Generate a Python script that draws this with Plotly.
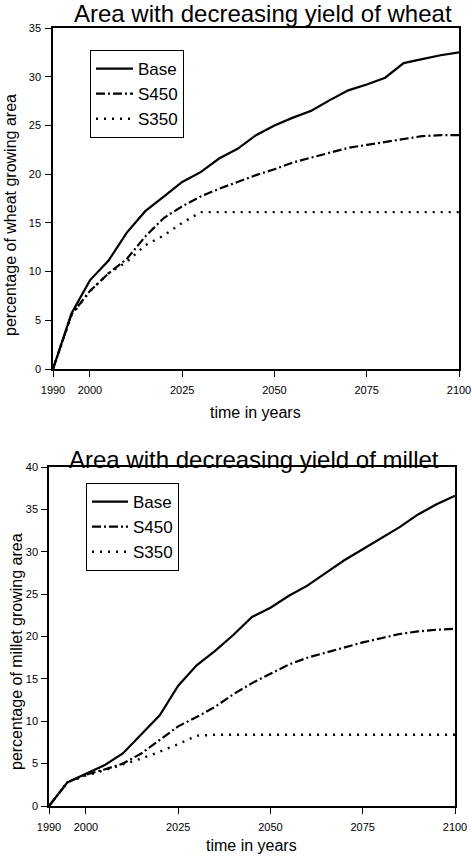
import plotly.graph_objects as go

years = [1990, 1995, 2000, 2005, 2010, 2015, 2020, 2025, 2030, 2035, 2040, 2045,
         2050, 2055, 2060, 2065, 2070, 2075, 2080, 2085, 2090, 2095, 2100]

wheat_base = [0, 5.7, 9.1, 11.1, 14.0, 16.2, 17.7, 19.2, 20.2, 21.6, 22.6, 24.0,
              25.0, 25.8, 26.5, 27.6, 28.6, 29.2, 29.9, 31.4, 31.8, 32.2, 32.5]
wheat_s450 = [0, 5.6, 8.0, 9.8, 11.3, 13.6, 15.5, 16.7, 17.7, 18.5, 19.2, 19.9,
              20.5, 21.2, 21.7, 22.2, 22.7, 23.0, 23.3, 23.6, 23.9, 24.0, 24.0]
wheat_s350 = [0, 5.5, 8.0, 9.8, 11.0, 12.7, 13.7, 15.0, 16.1, 16.1, 16.1, 16.1,
              16.1, 16.1, 16.1, 16.1, 16.1, 16.1, 16.1, 16.1, 16.1, 16.1, 16.1]

millet_base = [0, 2.8, 3.8, 4.8, 6.2, 8.5, 10.7, 14.2, 16.6, 18.3, 20.2, 22.3,
               23.4, 24.8, 26.0, 27.5, 29.0, 30.3, 31.6, 32.9, 34.4, 35.6, 36.6]
millet_s450 = [0, 2.8, 3.7, 4.3, 5.0, 6.2, 7.8, 9.4, 10.5, 11.7, 13.2, 14.5,
               15.6, 16.7, 17.5, 18.1, 18.7, 19.3, 19.8, 20.3, 20.6, 20.8, 20.9]
millet_s350 = [0, 2.8, 3.6, 4.2, 4.9, 5.6, 6.4, 7.3, 8.3, 8.4, 8.4, 8.4,
               8.4, 8.4, 8.4, 8.4, 8.4, 8.4, 8.4, 8.4, 8.4, 8.4, 8.4]

series_names = ["Base", "S450", "S350"]
x_ticks = [1990, 2000, 2025, 2050, 2075, 2100]
wheat_yticks = [0, 5, 10, 15, 20, 25, 30, 35]
millet_yticks = [0, 5, 10, 15, 20, 25, 30, 35, 40]

W, H = 472, 859
FONT = "Liberation Sans, Arial, Helvetica, sans-serif"
dashes = ["solid", "9px,3px,2px,3px", "2px,6px"]
widths = [2.2, 2.2, 2.4]

fig = go.Figure()
for name, vals, d, w in zip(series_names, [wheat_base, wheat_s450, wheat_s350], dashes, widths):
    fig.add_trace(go.Scatter(x=years, y=vals, mode="lines", name=name,
                             line=dict(color="black", width=w, dash=d),
                             xaxis="x", yaxis="y", legend="legend"))
for name, vals, d, w in zip(series_names, [millet_base, millet_s450, millet_s350], dashes, widths):
    fig.add_trace(go.Scatter(x=years, y=vals, mode="lines", name=name,
                             line=dict(color="black", width=w, dash=d),
                             xaxis="x2", yaxis="y2", legend="legend2"))

def px_x(p):
    return p / W

def px_y(p):
    return 1 - p / H

axis_common = dict(showgrid=False, zeroline=False, showline=True, linecolor="black",
                   linewidth=1.5, mirror=True, ticks="outside", ticklen=6,
                   tickcolor="black", tickwidth=1.2, automargin=False,
                   tickfont=dict(family=FONT, size=11, color="black"))

fig.update_layout(
    width=W, height=H,
    margin=dict(l=0, r=0, t=0, b=0, autoexpand=False),
    paper_bgcolor="white", plot_bgcolor="white",
    font=dict(family=FONT, color="black"),
    xaxis=dict(domain=[px_x(53), px_x(459)], range=[1990, 2100], tickvals=x_ticks,
               anchor="y", ticklabelstandoff=4, **axis_common),
    yaxis=dict(domain=[px_y(369), px_y(28)], range=[0, 35], tickvals=wheat_yticks,
               anchor="x", ticklabelstandoff=2, **axis_common),
    xaxis2=dict(domain=[px_x(49), px_x(455)], range=[1990, 2100], tickvals=x_ticks,
                anchor="y2", ticklabelstandoff=4, **axis_common),
    yaxis2=dict(domain=[px_y(806), px_y(467)], range=[0, 40], tickvals=millet_yticks,
                anchor="x2", ticklabelstandoff=1, **axis_common),
    legend=dict(x=px_x(90), y=px_y(50), xanchor="left", yanchor="top",
                bordercolor="black", borderwidth=1, bgcolor="white",
                font=dict(family=FONT, size=17, color="black"), itemwidth=37),
    legend2=dict(x=px_x(86), y=px_y(483), xanchor="left", yanchor="top",
                 bordercolor="black", borderwidth=1, bgcolor="white",
                 font=dict(family=FONT, size=17, color="black"), itemwidth=36),
)

ann = [
    dict(text="Area with decreasing yield of wheat", x=px_x(263), y=px_y(13), size=24, angle=0),
    dict(text="Area with decreasing yield of millet", x=px_x(254), y=px_y(459), size=24, angle=0),
    dict(text="time in years", x=px_x(255), y=px_y(412), size=16, angle=0),
    dict(text="time in years", x=px_x(251), y=px_y(845), size=16, angle=0),
    dict(text="percentage of wheat growing area", x=px_x(11), y=px_y(215), size=16, angle=-90),
    dict(text="percentage of millet growing area", x=px_x(16), y=px_y(652), size=16, angle=-90),
]
for a in ann:
    fig.add_annotation(text=a["text"], x=a["x"], y=a["y"], xref="paper", yref="paper",
                       xanchor="center", yanchor="middle", showarrow=False,
                       textangle=a["angle"], font=dict(family=FONT, size=a["size"], color="black"))

fig.write_html("out.html")
